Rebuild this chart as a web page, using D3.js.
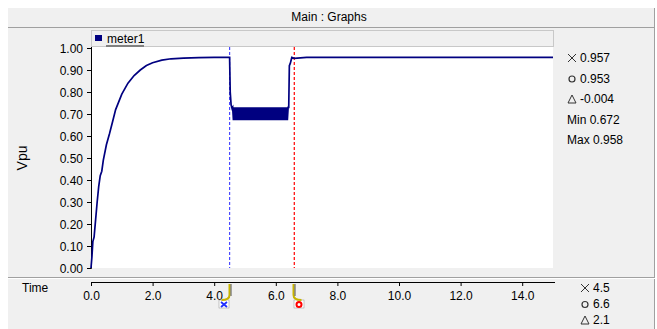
<!DOCTYPE html>
<html>
<head>
<meta charset="utf-8">
<script src="https://cdn.jsdelivr.net/npm/d3@7"></script>
<style>
body { margin: 0; background: #ffffff; }
svg text { font-family: "Liberation Sans", Arial, sans-serif; }
</style>
</head>
<body>
<div id="graph"></div>
<script>
// meter1 samples
let times = [0, 0.03, 0.06, 0.1, 0.15, 0.2, 0.25, 0.3, 0.35, 0.4, 0.5, 0.6, 0.7, 0.8, 0.9, 1.0, 1.1, 1.2, 1.4, 1.6, 1.8, 2.0, 2.3, 2.6, 3.0, 3.5, 4.0, 4.5,
    4.52, 4.55, 4.58,
    4.600, 4.625, 4.650, 4.675, 4.700, 4.725, 4.750, 4.775, 4.800, 4.825, 4.850, 4.875, 4.900, 4.925, 4.950, 4.975,
    5.000, 5.025, 5.050, 5.075, 5.100, 5.125, 5.150, 5.175, 5.200, 5.225, 5.250, 5.275, 5.300, 5.325, 5.350, 5.375,
    5.400, 5.425, 5.450, 5.475, 5.500, 5.525, 5.550, 5.575, 5.600, 5.625, 5.650, 5.675, 5.700, 5.725, 5.750, 5.775,
    5.800, 5.825, 5.850, 5.875, 5.900, 5.925, 5.950, 5.975, 6.000, 6.025, 6.050, 6.075, 6.100, 6.125, 6.150, 6.175,
    6.200, 6.225, 6.250, 6.275, 6.300, 6.325, 6.350, 6.375, 6.400,
    6.42, 6.44, 6.47, 6.52, 6.6, 7.0, 8.0, 9.0, 10.0, 11.0, 12.0, 13.0, 14.0, 15.0];
let values = [0, 0.05, 0.12, 0.14, 0.22, 0.30, 0.37, 0.42, 0.44, 0.49, 0.56, 0.61, 0.665, 0.72, 0.755, 0.79, 0.815, 0.84, 0.875, 0.90, 0.92, 0.933, 0.945, 0.951, 0.954, 0.956, 0.957, 0.957,
    0.80, 0.74, 0.725,
    0.730, 0.672, 0.730, 0.672, 0.730, 0.672, 0.730, 0.672, 0.730, 0.672, 0.730, 0.672, 0.730, 0.672, 0.730, 0.672,
    0.730, 0.672, 0.730, 0.672, 0.730, 0.672, 0.730, 0.672, 0.730, 0.672, 0.730, 0.672, 0.730, 0.672, 0.730, 0.672,
    0.730, 0.672, 0.730, 0.672, 0.730, 0.672, 0.730, 0.672, 0.730, 0.672, 0.730, 0.672, 0.730, 0.672, 0.730, 0.672,
    0.730, 0.672, 0.730, 0.672, 0.730, 0.672, 0.730, 0.672, 0.730, 0.672, 0.730, 0.672, 0.730, 0.672, 0.730, 0.672,
    0.730, 0.672, 0.730, 0.672, 0.730, 0.672, 0.730, 0.672, 0.730,
    0.73, 0.92, 0.93, 0.957, 0.953, 0.957, 0.957, 0.957, 0.957, 0.957, 0.957, 0.957, 0.957, 0.957];

let yTicks = [0, 0.1, 0.2, 0.3, 0.4, 0.5, 0.6, 0.7, 0.8, 0.9, 1.0];
let xTicks = [0, 2, 4, 6, 8, 10, 12, 14];
let cursorTimes = [4.5, 6.6];
let cursorSymbols = ['×', '○', 'Δ', 'Min', 'Max'];
let cursorValues = ['0.957', '0.953', '-0.004', '0.672', '0.958'];
let timeSymbols = ['×', '○', 'Δ'];
let cursorTimeLabels = ['4.5', '6.6', '2.1'];

let svg = d3.select("#graph").append("svg")
    .attr("width", 657)
    .attr("height", 329);

// panel background and frame
svg.append("rect").attr("x", 8).attr("y", 8).attr("width", 647).attr("height", 321).attr("fill", "#f0f0f0");
svg.append("line").attr("x1", 8).attr("x2", 655).attr("y1", 27.5).attr("y2", 27.5).attr("stroke", "#a0a0a0");
svg.append("line").attr("x1", 654.5).attr("x2", 654.5).attr("y1", 8).attr("y2", 329).attr("stroke", "#a0a0a0");
svg.append("line").attr("x1", 8).attr("x2", 655).attr("y1", 277.5).attr("y2", 277.5).attr("stroke", "#a0a0a0");
svg.append("line").attr("x1", 8).attr("x2", 655).attr("y1", 278.5).attr("y2", 278.5).attr("stroke", "#ffffff");

svg.append("text").attr("x", 329).attr("y", 21).attr("text-anchor", "middle")
    .attr("font-size", 12).attr("fill", "#000").text("Main : Graphs");

let margin = {top: 47, left: 91},
    width = 462,
    height = 221;

let x = d3.scaleLinear().domain([0, 15]).range([margin.left, margin.left + width]);
let y = d3.scaleLinear().domain([0, 1]).range([268, 48]);

// legend bar
svg.append("rect").attr("x", 91.5).attr("y", 30.5).attr("width", 462).attr("height", 16)
    .attr("fill", "#f0f0f0").attr("stroke", "#c8c8c8");
svg.append("rect").attr("x", 95).attr("y", 35).attr("width", 7).attr("height", 6).attr("fill", "#000080");
svg.append("text").attr("x", 107).attr("y", 43).attr("font-size", 12).attr("fill", "#000").text("meter1");
svg.append("line").attr("x1", 106).attr("x2", 144).attr("y1", 46).attr("y2", 46)
    .attr("stroke", "#808080").attr("stroke-width", 2);

// plot area
svg.append("rect").attr("x", margin.left).attr("y", margin.top).attr("width", width).attr("height", height)
    .attr("fill", "#ffffff");

let yAxis = svg.append("g")
    .attr("transform", `translate(${margin.left},0)`)
    .call(d3.axisLeft(y).tickValues(yTicks).tickFormat(d3.format(".2f")).tickSize(4).tickSizeOuter(0));
yAxis.select(".domain").attr("d", `M0.5,${margin.top}V268.5H-4`);
yAxis.selectAll("text").attr("font-size", 12).attr("font-family", "Liberation Sans, Arial, sans-serif")
    .attr("fill", "#000").attr("x", -8).attr("dy", "0.35em");

svg.append("text")
    .attr("transform", "translate(27,158) rotate(-90)")
    .attr("text-anchor", "middle").attr("font-size", 14).attr("fill", "#000").text("Vpu");

// cursor lines
svg.append("line").attr("x1", x(cursorTimes[0])).attr("x2", x(cursorTimes[0]))
    .attr("y1", margin.top).attr("y2", 268)
    .attr("stroke", "#4a4aff").attr("stroke-width", 1.2).attr("stroke-dasharray", "3,2");
svg.append("line").attr("x1", x(cursorTimes[1])).attr("x2", x(cursorTimes[1]))
    .attr("y1", margin.top).attr("y2", 268)
    .attr("stroke", "#ff0000").attr("stroke-width", 1.2).attr("stroke-dasharray", "3,2");

let line = d3.line()
    .x((d, i) => x(times[i]))
    .y(d => y(d));

svg.append("path")
    .datum(values)
    .attr("d", line)
    .attr("fill", "none")
    .attr("stroke", "#000080")
    .attr("stroke-width", 1.7);

// right readouts
let symbol = (g, s, cx, cy) => {
    if (s === '×') {
        g.append("path").attr("d", `M${cx - 4},${cy - 4}L${cx + 4},${cy + 4}M${cx - 4},${cy + 4}L${cx + 4},${cy - 4}`)
            .attr("stroke", "#333").attr("stroke-width", 1);
    } else if (s === '○') {
        g.append("circle").attr("cx", cx).attr("cy", cy + 0.5).attr("r", 3)
            .attr("fill", "none").attr("stroke", "#333").attr("stroke-width", 1.2);
    } else {
        g.append("path").attr("d", `M${cx - 4},${cy + 4}L${cx},${cy - 4}L${cx + 4},${cy + 4}Z`)
            .attr("fill", "none").attr("stroke", "#333").attr("stroke-width", 1);
    }
};

cursorValues.forEach((t, i) => {
    let yy = 62 + i * 20.5;
    if (i < 3) {
        symbol(svg, cursorSymbols[i], 572, yy - 4);
        svg.append("text").attr("x", 580).attr("y", yy).attr("font-size", 12).attr("fill", "#000").text(t);
    } else {
        svg.append("text").attr("x", 567).attr("y", yy).attr("font-size", 12)
            .attr("fill", "#000").text(cursorSymbols[i] + " " + t);
    }
});

// time axis
svg.append("text").attr("x", 22).attr("y", 292).attr("font-size", 12).attr("fill", "#000").text("Time");

let xAxis = svg.append("g")
    .attr("transform", "translate(0,282)")
    .call(d3.axisBottom(x).tickValues(xTicks).tickFormat(d3.format(".1f")).tickSize(4).tickSizeOuter(0));
xAxis.select(".domain").attr("d", `M${margin.left},0.5H555`);
xAxis.selectAll("text").attr("font-size", 12).attr("font-family", "Liberation Sans, Arial, sans-serif")
    .attr("fill", "#000").attr("y", 9);

// cursor handles on time axis
let handleColors = ["#2030ff", "#ff0000"];
cursorTimes.forEach((t, i) => {
    let cx = Math.round(x(t));
    let dir = i === 0 ? -1 : 1;
    let g = svg.append("g");
    let bx = i === 0 ? cx - 11 : cx;
    g.append("rect").attr("x", bx).attr("y", 300).attr("width", 10).attr("height", 8)
        .attr("fill", "#ffffff").attr("stroke", "#909090").attr("stroke-width", 0.5);
    g.append("path")
        .attr("d", `M${cx - 0.5},284V295Q${cx - 0.5},300 ${cx - 0.5 + dir * 8},300`)
        .attr("fill", "none").attr("stroke", "#c8b400").attr("stroke-width", 2);
    g.append("path")
        .attr("d", `M${cx + 1},284V296`)
        .attr("fill", "none").attr("stroke", "#505050").attr("stroke-width", 1);
    if (i === 0) {
        g.append("path").attr("d", `M${bx + 2},${302}L${bx + 8},${307}M${bx + 2},${307}L${bx + 8},${302}`)
            .attr("stroke", handleColors[i]).attr("stroke-width", 1.8);
    } else {
        g.append("circle").attr("cx", bx + 5).attr("cy", 304.5).attr("r", 2.5)
            .attr("fill", "none").attr("stroke", handleColors[i]).attr("stroke-width", 2);
    }
});

cursorTimeLabels.forEach((t, i) => {
    let yy = 292 + i * 16;
    symbol(svg, timeSymbols[i], 585, yy - 4);
    svg.append("text").attr("x", 593).attr("y", yy).attr("font-size", 12).attr("fill", "#000").text(t);
});
</script>
</body>
</html>
